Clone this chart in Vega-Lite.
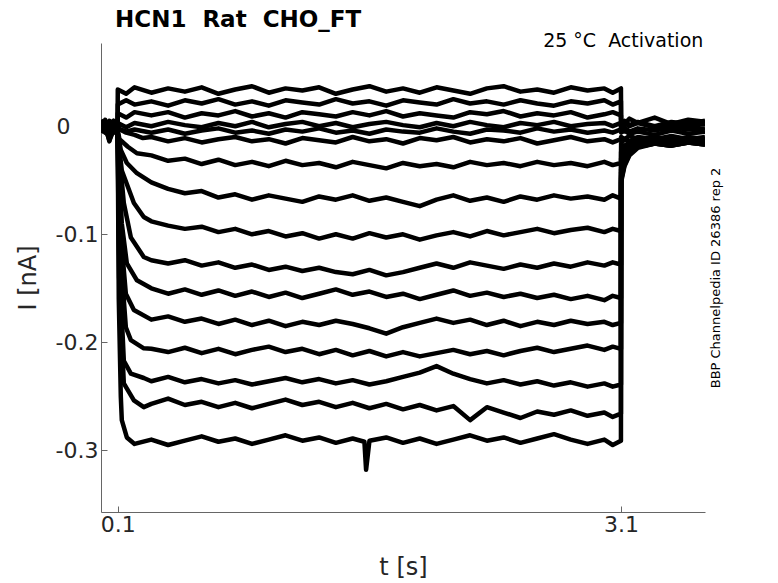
{
"$schema": "https://vega.github.io/schema/vega-lite/v6.json",
"width": 604, "height": 469,
"autosize": {"type": "none"},
"padding": {"left": 101, "top": 43, "right": 73, "bottom": 71},
"background": "#ffffff",
"config": {"view": {"stroke": null}, "font": "DejaVu Sans"},
"title": {"text": "HCN1\u00a0 Rat\u00a0 CHO_FT", "anchor": "start", "frame": "group", "dx": 14, "offset": -18, "baseline": "alphabetic", "fontSize": 23, "font": "DejaVu Sans", "fontWeight": "bold", "color": "#000000"},
"datasets": {
"notes": [{"label": "25 °C\u00a0 Activation", "t": 3.59, "i": 0.0731}],
"traces": [
{"s":1,"t":0,"i":0.005},{"s":1,"t":0.025,"i":-0.002},{"s":1,"t":0.05,"i":0.004},{"s":1,"t":0.075,"i":-0.003},{"s":1,"t":0.099,"i":0.006},
{"s":1,"t":0.1,"i":0.034},{"s":1,"t":0.15,"i":0.030},{"s":1,"t":0.2,"i":0.036},
{"s":1,"t":0.3,"i":0.031},{"s":1,"t":0.4,"i":0.035},{"s":1,"t":0.5,"i":0.032},{"s":1,"t":0.6,"i":0.036},{"s":1,"t":0.7,"i":0.030},{"s":1,"t":0.8,"i":0.034},{"s":1,"t":0.9,"i":0.037},{"s":1,"t":1.0,"i":0.031},{"s":1,"t":1.1,"i":0.035},{"s":1,"t":1.2,"i":0.033},{"s":1,"t":1.3,"i":0.036},{"s":1,"t":1.4,"i":0.030},{"s":1,"t":1.5,"i":0.034},{"s":1,"t":1.6,"i":0.037},{"s":1,"t":1.7,"i":0.032},{"s":1,"t":1.8,"i":0.035},{"s":1,"t":1.9,"i":0.031},{"s":1,"t":2.0,"i":0.036},{"s":1,"t":2.1,"i":0.033},{"s":1,"t":2.2,"i":0.030},{"s":1,"t":2.3,"i":0.035},{"s":1,"t":2.4,"i":0.037},{"s":1,"t":2.5,"i":0.032},{"s":1,"t":2.6,"i":0.034},{"s":1,"t":2.7,"i":0.031},{"s":1,"t":2.8,"i":0.036},{"s":1,"t":2.9,"i":0.033},{"s":1,"t":3.0,"i":0.035},{"s":1,"t":3.05,"i":0.031},{"s":1,"t":3.099,"i":0.035},
{"s":1,"t":3.1,"i":0.006},{"s":1,"t":3.12,"i":0.002},{"s":1,"t":3.15,"i":0.007},{"s":1,"t":3.2,"i":0.003},{"s":1,"t":3.3,"i":0.008},{"s":1,"t":3.4,"i":0.002},{"s":1,"t":3.5,"i":0.006},{"s":1,"t":3.6,"i":0.004},

{"s":2,"t":0,"i":-0.003},{"s":2,"t":0.025,"i":0.004},{"s":2,"t":0.05,"i":-0.001},{"s":2,"t":0.075,"i":0.005},{"s":2,"t":0.099,"i":-0.002},
{"s":2,"t":0.1,"i":0.020},{"s":2,"t":0.15,"i":0.024},{"s":2,"t":0.2,"i":0.020},
{"s":2,"t":0.3,"i":0.023},{"s":2,"t":0.4,"i":0.019},{"s":2,"t":0.5,"i":0.024},{"s":2,"t":0.6,"i":0.021},{"s":2,"t":0.7,"i":0.025},{"s":2,"t":0.8,"i":0.020},{"s":2,"t":0.9,"i":0.023},{"s":2,"t":1.0,"i":0.019},{"s":2,"t":1.1,"i":0.024},{"s":2,"t":1.2,"i":0.022},{"s":2,"t":1.3,"i":0.020},{"s":2,"t":1.4,"i":0.025},{"s":2,"t":1.5,"i":0.021},{"s":2,"t":1.6,"i":0.023},{"s":2,"t":1.7,"i":0.019},{"s":2,"t":1.8,"i":0.024},{"s":2,"t":1.9,"i":0.022},{"s":2,"t":2.0,"i":0.020},{"s":2,"t":2.1,"i":0.025},{"s":2,"t":2.2,"i":0.021},{"s":2,"t":2.3,"i":0.023},{"s":2,"t":2.4,"i":0.020},{"s":2,"t":2.5,"i":0.024},{"s":2,"t":2.6,"i":0.021},{"s":2,"t":2.7,"i":0.019},{"s":2,"t":2.8,"i":0.023},{"s":2,"t":2.9,"i":0.021},{"s":2,"t":3.0,"i":0.024},{"s":2,"t":3.05,"i":0.020},{"s":2,"t":3.099,"i":0.023},
{"s":2,"t":3.1,"i":0.002},{"s":2,"t":3.12,"i":0.005},{"s":2,"t":3.15,"i":0.001},{"s":2,"t":3.2,"i":0.004},{"s":2,"t":3.3,"i":0.000},{"s":2,"t":3.4,"i":0.004},{"s":2,"t":3.5,"i":0.002},{"s":2,"t":3.6,"i":0.005},

{"s":3,"t":0,"i":0.002},{"s":3,"t":0.025,"i":-0.005},{"s":3,"t":0.05,"i":0.003},{"s":3,"t":0.075,"i":-0.004},{"s":3,"t":0.099,"i":0.003},
{"s":3,"t":0.1,"i":0.012},{"s":3,"t":0.15,"i":0.008},{"s":3,"t":0.2,"i":0.013},
{"s":3,"t":0.3,"i":0.010},{"s":3,"t":0.4,"i":0.013},{"s":3,"t":0.5,"i":0.008},{"s":3,"t":0.6,"i":0.012},{"s":3,"t":0.7,"i":0.010},{"s":3,"t":0.8,"i":0.014},{"s":3,"t":0.9,"i":0.009},{"s":3,"t":1.0,"i":0.012},{"s":3,"t":1.1,"i":0.008},{"s":3,"t":1.2,"i":0.013},{"s":3,"t":1.3,"i":0.011},{"s":3,"t":1.4,"i":0.009},{"s":3,"t":1.5,"i":0.013},{"s":3,"t":1.6,"i":0.010},{"s":3,"t":1.7,"i":0.014},{"s":3,"t":1.8,"i":0.009},{"s":3,"t":1.9,"i":0.012},{"s":3,"t":2.0,"i":0.010},{"s":3,"t":2.1,"i":0.008},{"s":3,"t":2.2,"i":0.013},{"s":3,"t":2.3,"i":0.011},{"s":3,"t":2.4,"i":0.014},{"s":3,"t":2.5,"i":0.009},{"s":3,"t":2.6,"i":0.012},{"s":3,"t":2.7,"i":0.010},{"s":3,"t":2.8,"i":0.013},{"s":3,"t":2.9,"i":0.008},{"s":3,"t":3.0,"i":0.011},{"s":3,"t":3.05,"i":0.013},{"s":3,"t":3.099,"i":0.010},
{"s":3,"t":3.1,"i":-0.001},{"s":3,"t":3.12,"i":0.003},{"s":3,"t":3.15,"i":0.000},{"s":3,"t":3.2,"i":0.003},{"s":3,"t":3.3,"i":-0.001},{"s":3,"t":3.4,"i":0.002},{"s":3,"t":3.5,"i":0.000},{"s":3,"t":3.6,"i":0.002},

{"s":4,"t":0,"i":-0.006},{"s":4,"t":0.025,"i":0.001},{"s":4,"t":0.05,"i":-0.014},{"s":4,"t":0.075,"i":0.002},{"s":4,"t":0.099,"i":-0.004},
{"s":4,"t":0.1,"i":0.003},{"s":4,"t":0.15,"i":-0.001},{"s":4,"t":0.2,"i":0.003},
{"s":4,"t":0.3,"i":0.000},{"s":4,"t":0.4,"i":0.004},{"s":4,"t":0.5,"i":0.001},{"s":4,"t":0.6,"i":-0.001},{"s":4,"t":0.7,"i":0.003},{"s":4,"t":0.8,"i":0.000},{"s":4,"t":0.9,"i":0.004},{"s":4,"t":1.0,"i":-0.001},{"s":4,"t":1.1,"i":0.002},{"s":4,"t":1.2,"i":0.004},{"s":4,"t":1.3,"i":0.000},{"s":4,"t":1.4,"i":0.003},{"s":4,"t":1.5,"i":-0.001},{"s":4,"t":1.6,"i":0.002},{"s":4,"t":1.7,"i":0.004},{"s":4,"t":1.8,"i":0.001},{"s":4,"t":1.9,"i":-0.001},{"s":4,"t":2.0,"i":0.003},{"s":4,"t":2.1,"i":0.000},{"s":4,"t":2.2,"i":0.004},{"s":4,"t":2.3,"i":0.001},{"s":4,"t":2.4,"i":-0.001},{"s":4,"t":2.5,"i":0.003},{"s":4,"t":2.6,"i":0.001},{"s":4,"t":2.7,"i":0.004},{"s":4,"t":2.8,"i":0.000},{"s":4,"t":2.9,"i":0.002},{"s":4,"t":3.0,"i":0.003},{"s":4,"t":3.05,"i":0.000},{"s":4,"t":3.099,"i":0.003},
{"s":4,"t":3.1,"i":-0.004},{"s":4,"t":3.12,"i":-0.001},{"s":4,"t":3.15,"i":-0.005},{"s":4,"t":3.2,"i":-0.002},{"s":4,"t":3.3,"i":-0.004},{"s":4,"t":3.4,"i":-0.001},{"s":4,"t":3.5,"i":-0.003},{"s":4,"t":3.6,"i":-0.002},

{"s":5,"t":0,"i":0.004},{"s":5,"t":0.025,"i":-0.003},{"s":5,"t":0.05,"i":-0.011},{"s":5,"t":0.075,"i":0.001},{"s":5,"t":0.099,"i":-0.005},
{"s":5,"t":0.1,"i":-0.002},{"s":5,"t":0.15,"i":-0.005},{"s":5,"t":0.2,"i":-0.003},
{"s":5,"t":0.3,"i":-0.006},{"s":5,"t":0.4,"i":-0.003},{"s":5,"t":0.5,"i":-0.007},{"s":5,"t":0.6,"i":-0.004},{"s":5,"t":0.7,"i":-0.002},{"s":5,"t":0.8,"i":-0.006},{"s":5,"t":0.9,"i":-0.004},{"s":5,"t":1.0,"i":-0.007},{"s":5,"t":1.1,"i":-0.003},{"s":5,"t":1.2,"i":-0.005},{"s":5,"t":1.3,"i":-0.002},{"s":5,"t":1.4,"i":-0.006},{"s":5,"t":1.5,"i":-0.004},{"s":5,"t":1.6,"i":-0.007},{"s":5,"t":1.7,"i":-0.003},{"s":5,"t":1.8,"i":-0.005},{"s":5,"t":1.9,"i":-0.006},{"s":5,"t":2.0,"i":-0.002},{"s":5,"t":2.1,"i":-0.005},{"s":5,"t":2.2,"i":-0.007},{"s":5,"t":2.3,"i":-0.003},{"s":5,"t":2.4,"i":-0.004},{"s":5,"t":2.5,"i":-0.006},{"s":5,"t":2.6,"i":-0.002},{"s":5,"t":2.7,"i":-0.005},{"s":5,"t":2.8,"i":-0.003},{"s":5,"t":2.9,"i":-0.006},{"s":5,"t":3.0,"i":-0.004},{"s":5,"t":3.05,"i":-0.006},{"s":5,"t":3.099,"i":-0.003},
{"s":5,"t":3.1,"i":-0.006},{"s":5,"t":3.12,"i":-0.004},{"s":5,"t":3.15,"i":-0.007},{"s":5,"t":3.2,"i":-0.005},{"s":5,"t":3.3,"i":-0.008},{"s":5,"t":3.4,"i":-0.004},{"s":5,"t":3.5,"i":-0.007},{"s":5,"t":3.6,"i":-0.005},

{"s":6,"t":0,"i":-0.002},{"s":6,"t":0.025,"i":0.006},{"s":6,"t":0.05,"i":-0.004},{"s":6,"t":0.075,"i":-0.006},{"s":6,"t":0.099,"i":0.002},
{"s":6,"t":0.1,"i":-0.002},{"s":6,"t":0.15,"i":-0.006},{"s":6,"t":0.2,"i":-0.008},{"s":6,"t":0.25,"i":-0.011},
{"s":6,"t":0.3,"i":-0.010},{"s":6,"t":0.4,"i":-0.014},{"s":6,"t":0.5,"i":-0.011},{"s":6,"t":0.6,"i":-0.015},{"s":6,"t":0.7,"i":-0.012},{"s":6,"t":0.8,"i":-0.010},{"s":6,"t":0.9,"i":-0.014},{"s":6,"t":1.0,"i":-0.012},{"s":6,"t":1.1,"i":-0.016},{"s":6,"t":1.2,"i":-0.011},{"s":6,"t":1.3,"i":-0.013},{"s":6,"t":1.4,"i":-0.015},{"s":6,"t":1.5,"i":-0.010},{"s":6,"t":1.6,"i":-0.014},{"s":6,"t":1.7,"i":-0.012},{"s":6,"t":1.8,"i":-0.016},{"s":6,"t":1.9,"i":-0.011},{"s":6,"t":2.0,"i":-0.013},{"s":6,"t":2.1,"i":-0.010},{"s":6,"t":2.2,"i":-0.015},{"s":6,"t":2.3,"i":-0.012},{"s":6,"t":2.4,"i":-0.014},{"s":6,"t":2.5,"i":-0.011},{"s":6,"t":2.6,"i":-0.016},{"s":6,"t":2.7,"i":-0.013},{"s":6,"t":2.8,"i":-0.010},{"s":6,"t":2.9,"i":-0.014},{"s":6,"t":3.0,"i":-0.012},{"s":6,"t":3.05,"i":-0.015},{"s":6,"t":3.099,"i":-0.012},
{"s":6,"t":3.1,"i":-0.010},{"s":6,"t":3.12,"i":-0.012},{"s":6,"t":3.15,"i":-0.009},{"s":6,"t":3.2,"i":-0.012},{"s":6,"t":3.3,"i":-0.010},{"s":6,"t":3.4,"i":-0.013},{"s":6,"t":3.5,"i":-0.011},{"s":6,"t":3.6,"i":-0.012},

{"s":7,"t":0,"i":0.003},{"s":7,"t":0.025,"i":-0.004},{"s":7,"t":0.05,"i":0.002},{"s":7,"t":0.075,"i":0.005},{"s":7,"t":0.099,"i":-0.003},
{"s":7,"t":0.1,"i":-0.004},{"s":7,"t":0.11,"i":-0.012},{"s":7,"t":0.16,"i":-0.019},{"s":7,"t":0.214,"i":-0.025},
{"s":7,"t":0.3,"i":-0.027},{"s":7,"t":0.4,"i":-0.032},{"s":7,"t":0.5,"i":-0.030},{"s":7,"t":0.6,"i":-0.035},{"s":7,"t":0.7,"i":-0.031},{"s":7,"t":0.8,"i":-0.036},{"s":7,"t":0.9,"i":-0.033},{"s":7,"t":1.0,"i":-0.037},{"s":7,"t":1.1,"i":-0.032},{"s":7,"t":1.2,"i":-0.036},{"s":7,"t":1.3,"i":-0.034},{"s":7,"t":1.4,"i":-0.038},{"s":7,"t":1.5,"i":-0.033},{"s":7,"t":1.6,"i":-0.036},{"s":7,"t":1.7,"i":-0.039},{"s":7,"t":1.8,"i":-0.034},{"s":7,"t":1.9,"i":-0.037},{"s":7,"t":2.0,"i":-0.035},{"s":7,"t":2.1,"i":-0.038},{"s":7,"t":2.2,"i":-0.033},{"s":7,"t":2.3,"i":-0.036},{"s":7,"t":2.4,"i":-0.034},{"s":7,"t":2.5,"i":-0.037},{"s":7,"t":2.6,"i":-0.033},{"s":7,"t":2.7,"i":-0.036},{"s":7,"t":2.8,"i":-0.034},{"s":7,"t":2.9,"i":-0.037},{"s":7,"t":3.0,"i":-0.033},{"s":7,"t":3.05,"i":-0.036},{"s":7,"t":3.099,"i":-0.034},
{"s":7,"t":3.1,"i":-0.016},{"s":7,"t":3.12,"i":-0.012},{"s":7,"t":3.15,"i":-0.014},{"s":7,"t":3.2,"i":-0.010},{"s":7,"t":3.3,"i":-0.012},{"s":7,"t":3.4,"i":-0.009},{"s":7,"t":3.5,"i":-0.012},{"s":7,"t":3.6,"i":-0.010},

{"s":8,"t":0,"i":-0.004},{"s":8,"t":0.025,"i":0.002},{"s":8,"t":0.05,"i":-0.006},{"s":8,"t":0.075,"i":0.000},{"s":8,"t":0.099,"i":0.004},
{"s":8,"t":0.1,"i":-0.006},{"s":8,"t":0.118,"i":-0.022},{"s":8,"t":0.154,"i":-0.034},{"s":8,"t":0.214,"i":-0.0435},
{"s":8,"t":0.3,"i":-0.052},{"s":8,"t":0.4,"i":-0.058},{"s":8,"t":0.5,"i":-0.062},{"s":8,"t":0.6,"i":-0.060},{"s":8,"t":0.7,"i":-0.066},{"s":8,"t":0.8,"i":-0.063},{"s":8,"t":0.9,"i":-0.068},{"s":8,"t":1.0,"i":-0.064},{"s":8,"t":1.1,"i":-0.067},{"s":8,"t":1.2,"i":-0.070},{"s":8,"t":1.3,"i":-0.065},{"s":8,"t":1.4,"i":-0.068},{"s":8,"t":1.5,"i":-0.064},{"s":8,"t":1.6,"i":-0.069},{"s":8,"t":1.7,"i":-0.066},{"s":8,"t":1.8,"i":-0.070},{"s":8,"t":1.9,"i":-0.074},{"s":8,"t":2.0,"i":-0.068},{"s":8,"t":2.1,"i":-0.064},{"s":8,"t":2.2,"i":-0.069},{"s":8,"t":2.3,"i":-0.066},{"s":8,"t":2.4,"i":-0.070},{"s":8,"t":2.5,"i":-0.065},{"s":8,"t":2.6,"i":-0.068},{"s":8,"t":2.7,"i":-0.064},{"s":8,"t":2.8,"i":-0.067},{"s":8,"t":2.9,"i":-0.065},{"s":8,"t":3.0,"i":-0.068},{"s":8,"t":3.05,"i":-0.064},{"s":8,"t":3.099,"i":-0.067},
{"s":8,"t":3.1,"i":-0.024},{"s":8,"t":3.12,"i":-0.018},{"s":8,"t":3.15,"i":-0.015},{"s":8,"t":3.2,"i":-0.013},{"s":8,"t":3.3,"i":-0.011},{"s":8,"t":3.4,"i":-0.013},{"s":8,"t":3.5,"i":-0.010},{"s":8,"t":3.6,"i":-0.012},

{"s":9,"t":0,"i":0.001},{"s":9,"t":0.025,"i":-0.006},{"s":9,"t":0.05,"i":0.004},{"s":9,"t":0.075,"i":-0.002},{"s":9,"t":0.099,"i":-0.005},
{"s":9,"t":0.1,"i":-0.008},{"s":9,"t":0.124,"i":-0.041},{"s":9,"t":0.196,"i":-0.071},{"s":9,"t":0.255,"i":-0.084},
{"s":9,"t":0.3,"i":-0.088},{"s":9,"t":0.4,"i":-0.092},{"s":9,"t":0.5,"i":-0.095},{"s":9,"t":0.6,"i":-0.093},{"s":9,"t":0.7,"i":-0.098},{"s":9,"t":0.8,"i":-0.095},{"s":9,"t":0.9,"i":-0.100},{"s":9,"t":1.0,"i":-0.097},{"s":9,"t":1.1,"i":-0.102},{"s":9,"t":1.2,"i":-0.099},{"s":9,"t":1.3,"i":-0.104},{"s":9,"t":1.4,"i":-0.100},{"s":9,"t":1.5,"i":-0.104},{"s":9,"t":1.6,"i":-0.099},{"s":9,"t":1.7,"i":-0.103},{"s":9,"t":1.8,"i":-0.100},{"s":9,"t":1.9,"i":-0.105},{"s":9,"t":2.0,"i":-0.101},{"s":9,"t":2.1,"i":-0.098},{"s":9,"t":2.2,"i":-0.102},{"s":9,"t":2.3,"i":-0.097},{"s":9,"t":2.4,"i":-0.101},{"s":9,"t":2.5,"i":-0.098},{"s":9,"t":2.6,"i":-0.095},{"s":9,"t":2.7,"i":-0.099},{"s":9,"t":2.8,"i":-0.096},{"s":9,"t":2.9,"i":-0.094},{"s":9,"t":3.0,"i":-0.098},{"s":9,"t":3.05,"i":-0.095},{"s":9,"t":3.099,"i":-0.097},
{"s":9,"t":3.1,"i":-0.030},{"s":9,"t":3.12,"i":-0.022},{"s":9,"t":3.15,"i":-0.017},{"s":9,"t":3.2,"i":-0.014},{"s":9,"t":3.3,"i":-0.012},{"s":9,"t":3.4,"i":-0.014},{"s":9,"t":3.5,"i":-0.011},{"s":9,"t":3.6,"i":-0.013},

{"s":10,"t":0,"i":-0.005},{"s":10,"t":0.025,"i":0.003},{"s":10,"t":0.05,"i":-0.002},{"s":10,"t":0.075,"i":0.004},{"s":10,"t":0.099,"i":0.001},
{"s":10,"t":0.1,"i":-0.010},{"s":10,"t":0.136,"i":-0.071},{"s":10,"t":0.178,"i":-0.103},{"s":10,"t":0.255,"i":-0.121},
{"s":10,"t":0.3,"i":-0.124},{"s":10,"t":0.4,"i":-0.127},{"s":10,"t":0.5,"i":-0.124},{"s":10,"t":0.6,"i":-0.129},{"s":10,"t":0.7,"i":-0.126},{"s":10,"t":0.8,"i":-0.131},{"s":10,"t":0.9,"i":-0.128},{"s":10,"t":1.0,"i":-0.133},{"s":10,"t":1.1,"i":-0.130},{"s":10,"t":1.2,"i":-0.134},{"s":10,"t":1.3,"i":-0.131},{"s":10,"t":1.4,"i":-0.135},{"s":10,"t":1.5,"i":-0.137},{"s":10,"t":1.6,"i":-0.133},{"s":10,"t":1.7,"i":-0.138},{"s":10,"t":1.8,"i":-0.135},{"s":10,"t":1.9,"i":-0.131},{"s":10,"t":2.0,"i":-0.127},{"s":10,"t":2.1,"i":-0.131},{"s":10,"t":2.2,"i":-0.126},{"s":10,"t":2.3,"i":-0.129},{"s":10,"t":2.4,"i":-0.132},{"s":10,"t":2.5,"i":-0.128},{"s":10,"t":2.6,"i":-0.131},{"s":10,"t":2.7,"i":-0.127},{"s":10,"t":2.8,"i":-0.130},{"s":10,"t":2.9,"i":-0.126},{"s":10,"t":3.0,"i":-0.129},{"s":10,"t":3.05,"i":-0.126},{"s":10,"t":3.099,"i":-0.128},
{"s":10,"t":3.1,"i":-0.036},{"s":10,"t":3.12,"i":-0.026},{"s":10,"t":3.15,"i":-0.019},{"s":10,"t":3.2,"i":-0.015},{"s":10,"t":3.3,"i":-0.013},{"s":10,"t":3.4,"i":-0.015},{"s":10,"t":3.5,"i":-0.012},{"s":10,"t":3.6,"i":-0.014},

{"s":11,"t":0,"i":0.006},{"s":11,"t":0.025,"i":-0.001},{"s":11,"t":0.05,"i":-0.013},{"s":11,"t":0.075,"i":-0.004},{"s":11,"t":0.099,"i":0.002},
{"s":11,"t":0.1,"i":-0.012},{"s":11,"t":0.124,"i":-0.090},{"s":11,"t":0.154,"i":-0.127},{"s":11,"t":0.214,"i":-0.1426},
{"s":11,"t":0.3,"i":-0.150},{"s":11,"t":0.4,"i":-0.155},{"s":11,"t":0.5,"i":-0.151},{"s":11,"t":0.6,"i":-0.156},{"s":11,"t":0.7,"i":-0.152},{"s":11,"t":0.8,"i":-0.157},{"s":11,"t":0.9,"i":-0.153},{"s":11,"t":1.0,"i":-0.158},{"s":11,"t":1.1,"i":-0.154},{"s":11,"t":1.2,"i":-0.159},{"s":11,"t":1.3,"i":-0.155},{"s":11,"t":1.4,"i":-0.151},{"s":11,"t":1.5,"i":-0.156},{"s":11,"t":1.6,"i":-0.153},{"s":11,"t":1.7,"i":-0.158},{"s":11,"t":1.8,"i":-0.155},{"s":11,"t":1.9,"i":-0.160},{"s":11,"t":2.0,"i":-0.156},{"s":11,"t":2.1,"i":-0.152},{"s":11,"t":2.2,"i":-0.157},{"s":11,"t":2.3,"i":-0.154},{"s":11,"t":2.4,"i":-0.158},{"s":11,"t":2.5,"i":-0.155},{"s":11,"t":2.6,"i":-0.159},{"s":11,"t":2.7,"i":-0.156},{"s":11,"t":2.8,"i":-0.160},{"s":11,"t":2.9,"i":-0.157},{"s":11,"t":3.0,"i":-0.161},{"s":11,"t":3.05,"i":-0.157},{"s":11,"t":3.099,"i":-0.159},
{"s":11,"t":3.1,"i":-0.040},{"s":11,"t":3.12,"i":-0.029},{"s":11,"t":3.15,"i":-0.021},{"s":11,"t":3.2,"i":-0.016},{"s":11,"t":3.3,"i":-0.014},{"s":11,"t":3.4,"i":-0.016},{"s":11,"t":3.5,"i":-0.013},{"s":11,"t":3.6,"i":-0.015},

{"s":12,"t":0,"i":-0.001},{"s":12,"t":0.025,"i":0.005},{"s":12,"t":0.05,"i":-0.003},{"s":12,"t":0.075,"i":0.001},{"s":12,"t":0.099,"i":-0.006},
{"s":12,"t":0.1,"i":-0.014},{"s":12,"t":0.118,"i":-0.100},{"s":12,"t":0.148,"i":-0.155},{"s":12,"t":0.196,"i":-0.170},
{"s":12,"t":0.3,"i":-0.179},{"s":12,"t":0.4,"i":-0.176},{"s":12,"t":0.5,"i":-0.181},{"s":12,"t":0.6,"i":-0.178},{"s":12,"t":0.7,"i":-0.183},{"s":12,"t":0.8,"i":-0.179},{"s":12,"t":0.9,"i":-0.184},{"s":12,"t":1.0,"i":-0.180},{"s":12,"t":1.1,"i":-0.185},{"s":12,"t":1.2,"i":-0.181},{"s":12,"t":1.3,"i":-0.184},{"s":12,"t":1.4,"i":-0.180},{"s":12,"t":1.5,"i":-0.183},{"s":12,"t":1.6,"i":-0.187},{"s":12,"t":1.7,"i":-0.192},{"s":12,"t":1.8,"i":-0.186},{"s":12,"t":1.9,"i":-0.182},{"s":12,"t":2.0,"i":-0.178},{"s":12,"t":2.1,"i":-0.182},{"s":12,"t":2.2,"i":-0.179},{"s":12,"t":2.3,"i":-0.184},{"s":12,"t":2.4,"i":-0.180},{"s":12,"t":2.5,"i":-0.185},{"s":12,"t":2.6,"i":-0.181},{"s":12,"t":2.7,"i":-0.184},{"s":12,"t":2.8,"i":-0.180},{"s":12,"t":2.9,"i":-0.183},{"s":12,"t":3.0,"i":-0.181},{"s":12,"t":3.05,"i":-0.184},{"s":12,"t":3.099,"i":-0.182},
{"s":12,"t":3.1,"i":-0.043},{"s":12,"t":3.12,"i":-0.031},{"s":12,"t":3.15,"i":-0.022},{"s":12,"t":3.2,"i":-0.017},{"s":12,"t":3.3,"i":-0.014},{"s":12,"t":3.4,"i":-0.016},{"s":12,"t":3.5,"i":-0.013},{"s":12,"t":3.6,"i":-0.015},

{"s":13,"t":0,"i":0.002},{"s":13,"t":0.025,"i":-0.003},{"s":13,"t":0.05,"i":0.005},{"s":13,"t":0.075,"i":-0.005},{"s":13,"t":0.099,"i":0.003},
{"s":13,"t":0.1,"i":-0.016},{"s":13,"t":0.112,"i":-0.110},{"s":13,"t":0.148,"i":-0.186},{"s":13,"t":0.178,"i":-0.198},{"s":13,"t":0.255,"i":-0.2055},
{"s":13,"t":0.3,"i":-0.206},{"s":13,"t":0.4,"i":-0.209},{"s":13,"t":0.5,"i":-0.205},{"s":13,"t":0.6,"i":-0.210},{"s":13,"t":0.7,"i":-0.206},{"s":13,"t":0.8,"i":-0.211},{"s":13,"t":0.9,"i":-0.207},{"s":13,"t":1.0,"i":-0.204},{"s":13,"t":1.1,"i":-0.209},{"s":13,"t":1.2,"i":-0.206},{"s":13,"t":1.3,"i":-0.211},{"s":13,"t":1.4,"i":-0.207},{"s":13,"t":1.5,"i":-0.212},{"s":13,"t":1.6,"i":-0.208},{"s":13,"t":1.7,"i":-0.213},{"s":13,"t":1.8,"i":-0.209},{"s":13,"t":1.9,"i":-0.213},{"s":13,"t":2.0,"i":-0.210},{"s":13,"t":2.1,"i":-0.207},{"s":13,"t":2.2,"i":-0.211},{"s":13,"t":2.3,"i":-0.208},{"s":13,"t":2.4,"i":-0.212},{"s":13,"t":2.5,"i":-0.208},{"s":13,"t":2.6,"i":-0.205},{"s":13,"t":2.7,"i":-0.209},{"s":13,"t":2.8,"i":-0.206},{"s":13,"t":2.9,"i":-0.203},{"s":13,"t":3.0,"i":-0.207},{"s":13,"t":3.05,"i":-0.204},{"s":13,"t":3.099,"i":-0.206},
{"s":13,"t":3.1,"i":-0.046},{"s":13,"t":3.12,"i":-0.033},{"s":13,"t":3.15,"i":-0.024},{"s":13,"t":3.2,"i":-0.018},{"s":13,"t":3.3,"i":-0.015},{"s":13,"t":3.4,"i":-0.017},{"s":13,"t":3.5,"i":-0.014},{"s":13,"t":3.6,"i":-0.016},

{"s":14,"t":0,"i":-0.003},{"s":14,"t":0.025,"i":0.001},{"s":14,"t":0.05,"i":-0.005},{"s":14,"t":0.075,"i":0.003},{"s":14,"t":0.099,"i":-0.002},
{"s":14,"t":0.1,"i":-0.018},{"s":14,"t":0.11,"i":-0.130},{"s":14,"t":0.136,"i":-0.217},{"s":14,"t":0.178,"i":-0.229},{"s":14,"t":0.255,"i":-0.233},
{"s":14,"t":0.3,"i":-0.236},{"s":14,"t":0.4,"i":-0.232},{"s":14,"t":0.5,"i":-0.237},{"s":14,"t":0.6,"i":-0.234},{"s":14,"t":0.7,"i":-0.238},{"s":14,"t":0.8,"i":-0.235},{"s":14,"t":0.9,"i":-0.239},{"s":14,"t":1.0,"i":-0.236},{"s":14,"t":1.1,"i":-0.233},{"s":14,"t":1.2,"i":-0.237},{"s":14,"t":1.3,"i":-0.234},{"s":14,"t":1.4,"i":-0.238},{"s":14,"t":1.5,"i":-0.235},{"s":14,"t":1.6,"i":-0.239},{"s":14,"t":1.7,"i":-0.236},{"s":14,"t":1.8,"i":-0.232},{"s":14,"t":1.9,"i":-0.228},{"s":14,"t":2.0,"i":-0.222},{"s":14,"t":2.1,"i":-0.229},{"s":14,"t":2.2,"i":-0.234},{"s":14,"t":2.3,"i":-0.238},{"s":14,"t":2.4,"i":-0.235},{"s":14,"t":2.5,"i":-0.239},{"s":14,"t":2.6,"i":-0.236},{"s":14,"t":2.7,"i":-0.240},{"s":14,"t":2.8,"i":-0.237},{"s":14,"t":2.9,"i":-0.241},{"s":14,"t":3.0,"i":-0.238},{"s":14,"t":3.05,"i":-0.241},{"s":14,"t":3.099,"i":-0.239},
{"s":14,"t":3.1,"i":-0.048},{"s":14,"t":3.12,"i":-0.034},{"s":14,"t":3.15,"i":-0.025},{"s":14,"t":3.2,"i":-0.019},{"s":14,"t":3.3,"i":-0.016},{"s":14,"t":3.4,"i":-0.018},{"s":14,"t":3.5,"i":-0.015},{"s":14,"t":3.6,"i":-0.017},

{"s":15,"t":0,"i":0.004},{"s":15,"t":0.025,"i":-0.005},{"s":15,"t":0.05,"i":0.001},{"s":15,"t":0.075,"i":-0.001},{"s":15,"t":0.099,"i":0.005},
{"s":15,"t":0.1,"i":-0.020},{"s":15,"t":0.108,"i":-0.140},{"s":15,"t":0.136,"i":-0.238},{"s":15,"t":0.196,"i":-0.2537},{"s":15,"t":0.255,"i":-0.260},
{"s":15,"t":0.3,"i":-0.257},{"s":15,"t":0.4,"i":-0.252},{"s":15,"t":0.5,"i":-0.258},{"s":15,"t":0.6,"i":-0.255},{"s":15,"t":0.7,"i":-0.260},{"s":15,"t":0.8,"i":-0.256},{"s":15,"t":0.9,"i":-0.261},{"s":15,"t":1.0,"i":-0.257},{"s":15,"t":1.1,"i":-0.253},{"s":15,"t":1.2,"i":-0.258},{"s":15,"t":1.3,"i":-0.255},{"s":15,"t":1.4,"i":-0.260},{"s":15,"t":1.5,"i":-0.256},{"s":15,"t":1.6,"i":-0.261},{"s":15,"t":1.7,"i":-0.257},{"s":15,"t":1.8,"i":-0.262},{"s":15,"t":1.9,"i":-0.258},{"s":15,"t":2.0,"i":-0.263},{"s":15,"t":2.1,"i":-0.259},{"s":15,"t":2.2,"i":-0.272},{"s":15,"t":2.3,"i":-0.260},{"s":15,"t":2.4,"i":-0.265},{"s":15,"t":2.5,"i":-0.270},{"s":15,"t":2.6,"i":-0.264},{"s":15,"t":2.7,"i":-0.267},{"s":15,"t":2.8,"i":-0.263},{"s":15,"t":2.9,"i":-0.268},{"s":15,"t":3.0,"i":-0.265},{"s":15,"t":3.05,"i":-0.269},{"s":15,"t":3.099,"i":-0.266},
{"s":15,"t":3.1,"i":-0.050},{"s":15,"t":3.12,"i":-0.036},{"s":15,"t":3.15,"i":-0.026},{"s":15,"t":3.2,"i":-0.019},{"s":15,"t":3.3,"i":-0.016},{"s":15,"t":3.4,"i":-0.018},{"s":15,"t":3.5,"i":-0.015},{"s":15,"t":3.6,"i":-0.017},

{"s":16,"t":0,"i":-0.006},{"s":16,"t":0.025,"i":0.003},{"s":16,"t":0.05,"i":-0.010},{"s":16,"t":0.075,"i":0.002},{"s":16,"t":0.099,"i":-0.001},
{"s":16,"t":0.1,"i":-0.022},{"s":16,"t":0.106,"i":-0.160},{"s":16,"t":0.118,"i":-0.250},{"s":16,"t":0.124,"i":-0.272},{"s":16,"t":0.154,"i":-0.288},{"s":16,"t":0.2,"i":-0.294},
{"s":16,"t":0.3,"i":-0.290},{"s":16,"t":0.4,"i":-0.295},{"s":16,"t":0.5,"i":-0.291},{"s":16,"t":0.6,"i":-0.287},{"s":16,"t":0.7,"i":-0.292},{"s":16,"t":0.8,"i":-0.289},{"s":16,"t":0.9,"i":-0.294},{"s":16,"t":1.0,"i":-0.290},{"s":16,"t":1.1,"i":-0.286},{"s":16,"t":1.2,"i":-0.291},{"s":16,"t":1.3,"i":-0.288},{"s":16,"t":1.4,"i":-0.293},{"s":16,"t":1.5,"i":-0.289},{"s":16,"t":1.57,"i":-0.292},{"s":16,"t":1.58,"i":-0.318},{"s":16,"t":1.6,"i":-0.291},{"s":16,"t":1.7,"i":-0.288},{"s":16,"t":1.8,"i":-0.293},{"s":16,"t":1.9,"i":-0.289},{"s":16,"t":2.0,"i":-0.294},{"s":16,"t":2.1,"i":-0.290},{"s":16,"t":2.2,"i":-0.286},{"s":16,"t":2.3,"i":-0.291},{"s":16,"t":2.4,"i":-0.288},{"s":16,"t":2.5,"i":-0.293},{"s":16,"t":2.6,"i":-0.289},{"s":16,"t":2.7,"i":-0.285},{"s":16,"t":2.8,"i":-0.290},{"s":16,"t":2.9,"i":-0.294},{"s":16,"t":3.0,"i":-0.290},{"s":16,"t":3.05,"i":-0.295},{"s":16,"t":3.099,"i":-0.291},
{"s":16,"t":3.1,"i":-0.052},{"s":16,"t":3.12,"i":-0.037},{"s":16,"t":3.15,"i":-0.027},{"s":16,"t":3.2,"i":-0.020},{"s":16,"t":3.3,"i":-0.016},{"s":16,"t":3.4,"i":-0.018},{"s":16,"t":3.5,"i":-0.015},{"s":16,"t":3.6,"i":-0.017}
]
},
"layer": [
{
"data": {"name": "traces"},
"mark": {"type": "line", "color": "#000000", "strokeWidth": 4.5, "strokeJoin": "round", "clip": true},
"encoding": {
"x": {"field": "t", "type": "quantitative", "scale": {"domain": [0, 3.6], "nice": false, "zero": false},
"axis": {"title": "t [s]", "values": [0.1, 3.1], "format": ".1f", "grid": false, "tickSize": -6, "tickColor": "#666666", "domainColor": "#666666", "labelColor": "#262626", "labelFont": "DejaVu Sans", "labelFontSize": 22, "labelPadding": 8, "titleFont": "DejaVu Sans", "titleFontSize": 24, "titleFontWeight": "normal", "titleColor": "#262626", "titlePadding": 20}},
"y": {"field": "i", "type": "quantitative", "scale": {"domain": [-0.357, 0.077], "nice": false, "zero": false},
"axis": {"title": "I [nA]", "values": [-0.3, -0.2, -0.1, 0], "labelExpr": "datum.value == 0 ? '0' : '-' + format(-datum.value, '.1f')", "grid": false, "tickSize": -6, "tickColor": "#666666", "domainColor": "#666666", "labelColor": "#262626", "labelFont": "DejaVu Sans", "labelFontSize": 22, "labelPadding": {"condition": {"test": "datum.value == 0", "value": 37}, "value": 9}, "titleFont": "DejaVu Sans", "titleFontSize": 24, "titleFontWeight": "normal", "titleColor": "#262626", "titlePadding": 15}},
"detail": {"field": "s", "type": "nominal"}
}
},
{
"data": {"name": "notes"},
"mark": {"type": "text", "align": "right", "baseline": "alphabetic", "font": "DejaVu Sans", "fontSize": 19, "color": "#000000"},
"encoding": {
"x": {"field": "t", "type": "quantitative"},
"y": {"field": "i", "type": "quantitative", "axis": {"orient": "right", "title": "BBP Channelpedia ID 26386 rep 2", "labels": false, "ticks": false, "domain": false, "grid": false, "minExtent": 0, "titleAngle": 270, "titleBaseline": "top", "titleFont": "DejaVu Sans", "titleFontSize": 13, "titleFontWeight": "normal", "titleColor": "#000000", "titlePadding": 4}},
"text": {"field": "label"}
}
}
],
"resolve": {"axis": {"y": "independent"}}
}
